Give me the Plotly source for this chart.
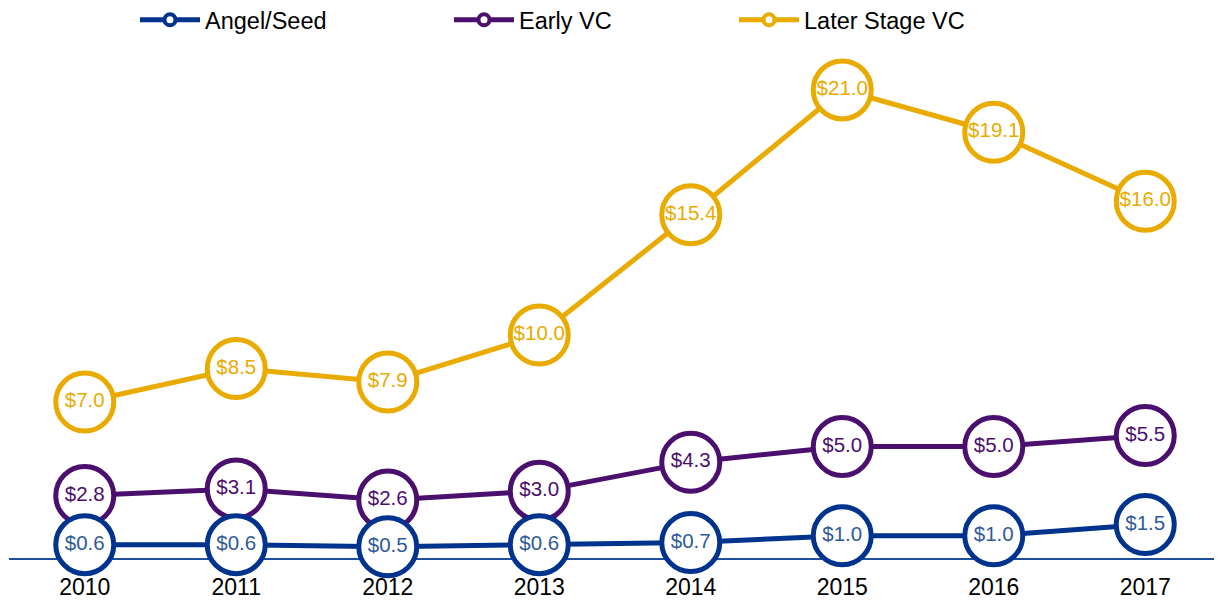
import plotly.graph_objects as go

years = ["2010", "2011", "2012", "2013", "2014", "2015", "2016", "2017"]
angel_seed = [0.6, 0.6, 0.5, 0.6, 0.7, 1.0, 1.0, 1.5]
early_vc = [2.8, 3.1, 2.6, 3.0, 4.3, 5.0, 5.0, 5.5]
later_vc = [7.0, 8.5, 7.9, 10.0, 15.4, 21.0, 19.1, 16.0]

series = [
    ("Later Stage VC", later_vc, "#E9AB00", "#E9AB00", "legend3"),
    ("Early VC", early_vc, "#4B0F6E", "#4B0F6E", "legend2"),
    ("Angel/Seed", angel_seed, "#00338D", "#2F5B98", "legend"),
]

# page body has an 8px margin; figure sized to fill the rest of the window
W, H = 1214, 594
T, B = 15, 44
PH = H - T - B

fig = go.Figure()
for name, vals, col, tcol, lg in series:
    fig.add_trace(go.Scatter(
        x=years, y=vals, mode="lines+markers+text",
        name=name, showlegend=False,
        line=dict(color=col, width=5),
        marker=dict(size=58, color="white", line=dict(color=col, width=5)),
        text=[f"${v:.1f}" for v in vals],
        textposition="middle center",
        textfont=dict(color=tcol, size=20.5, family="Liberation Sans, Arial"),
        cliponaxis=False,
    ))
    fig.add_trace(go.Scatter(
        x=[None], y=[None], mode="lines+markers", name=name,
        legend=lg, showlegend=True,
        line=dict(color=col, width=5),
        marker=dict(size=11, color="white", line=dict(color=col, width=4)),
    ))

leg_common = dict(orientation="h", xref="container", yref="paper",
                  yanchor="top", xanchor="left", y=(PH + T + 10) / PH,
                  font=dict(size=23.5, color="black", family="Liberation Sans, Arial"),
                  bgcolor="rgba(0,0,0,0)", itemwidth=60)

fig.update_layout(
    width=W, height=H,
    margin=dict(l=1, r=1, t=T, b=B, autoexpand=False),
    paper_bgcolor="white", plot_bgcolor="white",
    font=dict(family="Liberation Sans, Arial", color="black"),
    legend=dict(leg_common, x=127 / W),
    legend2=dict(leg_common, x=441 / W),
    legend3=dict(leg_common, x=726 / W),
    xaxis=dict(
        type="category", range=[-0.5, 7.5],
        showline=True, linecolor="#1F4E9C", linewidth=2,
        showgrid=False, zeroline=False, ticks="",
        tickfont=dict(size=23, color="black"),
        ticklabelstandoff=7,
        layer="below traces",
    ),
    yaxis=dict(range=[0, 24], visible=False, showgrid=False, zeroline=False),
)

fig.write_html("out.html")
